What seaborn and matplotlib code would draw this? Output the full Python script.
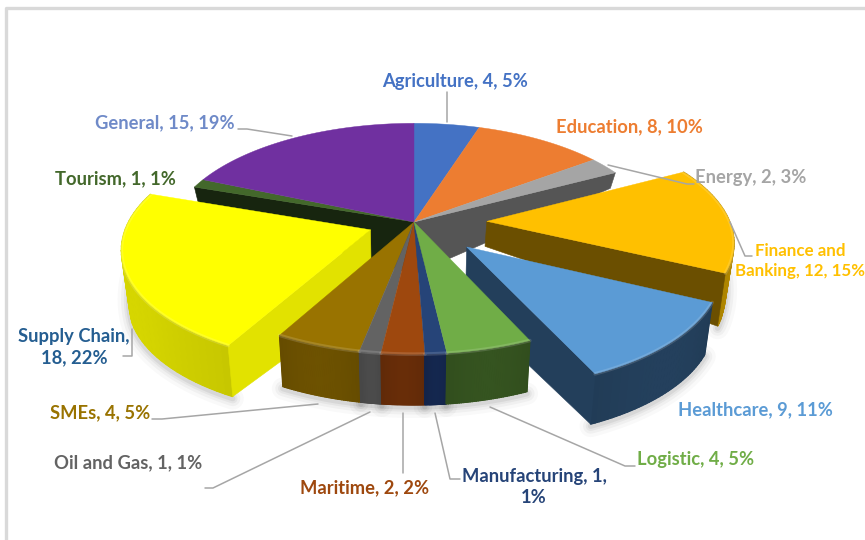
import numpy as np
import matplotlib
matplotlib.use("Agg")
import matplotlib.pyplot as plt
import seaborn as sns

# Survey results by sector
categories = ["Agriculture", "Education", "Energy", "Finance and Banking", "Healthcare",
              "Logistic", "Manufacturing", "Maritime", "Oil and Gas", "SMEs",
              "Supply Chain", "Tourism", "General"]
counts = [4, 8, 2, 12, 9, 4, 1, 2, 1, 4, 18, 1, 15]
percents = [5, 10, 3, 15, 11, 5, 1, 2, 1, 5, 22, 1, 19]

top_colors = ["#4472C4", "#ED7D31", "#A5A5A5", "#FFC000", "#5B9BD5", "#70AD47", "#264478",
              "#9E480E", "#636363", "#997300", "#FFFF00", "#43682B", "#7030A0"]
cut_colors = ["#2a4478", "#8e4b1d", "#555555", "#6b4f00", "#233f5b", "#2f4a1e", "#14264d",
              "#662c08", "#4a4a4a", "#6b5000", "#e2e200", "#17250f", "#3b1a55"]
rim_colors = ["#2a4478", "#8e4b1d", "#555555", "#b58a00", "#233f5b", "#34521f", "#14264d",
              "#662c08", "#4a4a4a", "#6b5000", "#d2d200", "#17250f", "#3b1a55"]
text_colors = ["#4472C4", "#ED7D31", "#A5A5A5", "#FFC000", "#5B9BD5", "#70AD47", "#264478",
               "#9E480E", "#636363", "#997300", "#255E91", "#43682B", "#6F8AC8"]

# Slices pulled out of the pie, as a fraction of the radius
explode = {"Finance and Banking": 0.30, "Healthcare": 0.30, "Supply Chain": 0.19}
# Depth of the side walls at the pie axis
axis_depth = {"Finance and Banking": 25, "Healthcare": 58, "Supply Chain": 65}

CX, CY, RX, RY, PERSP, TAPER = 414.0, 222.0, 243.0, 113.0, 0.145, 0.975

sns.set_theme(style="white")
plt.rcParams["font.family"] = ["Lato", "DejaVu Sans"]

fig = plt.figure(figsize=(8.65, 5.4), dpi=100)
ax = fig.add_axes([0, 0, 1, 1])
ax.set_xlim(0, 865)
ax.set_ylim(540, 0)
ax.axis("off")
sns.despine(ax=ax, left=True, bottom=True)

# Thin grey frame around the chart area
ax.plot([5.5, 5.5, 900], [560, 7.5, 7.5], color="#d9d9d9", lw=2.4, zorder=0)


def project(px, py):
    """Ground-plane pie coordinates to screen pixels, with perspective."""
    s = 1.0 / (1.0 + PERSP * py)
    return CX + RX * px * s, CY - RY * py * s


def wall_depth(py):
    return np.interp(py, [-1.2, -0.4, 0.0, 0.5, 1.0], [50, 53, 38, 14, 10])


def lower(x, y, depth):
    return CX + (x - CX) * TAPER, y + depth


edges = np.concatenate([[0], np.cumsum(counts)]) / np.sum(counts) * 2 * np.pi


def geometry(i):
    name = categories[i]
    a0, a1 = edges[i], edges[i + 1]
    mid = (a0 + a1) / 2
    e = explode.get(name, 0.0)
    ox, oy = e * np.sin(mid), e * np.cos(mid)
    th = np.linspace(a0, a1, 40)
    ax_px, ax_py = np.sin(th) + ox, np.cos(th) + oy
    x, y = project(ax_px, ax_py)
    apex = project(ox, oy)
    return x, y, ax_py, apex, axis_depth.get(name, 52)


def draw_shadow(i):
    x, y, py, _, _ = geometry(i)
    bx, by = lower(x, y, wall_depth(py))
    for w, a in zip([16, 11, 7, 4], [0.025, 0.035, 0.045, 0.06]):
        ax.plot(bx, by + 2, color="black", alpha=a, lw=w, solid_capstyle="round", zorder=1)


def draw_cut(i, which, z):
    x, y, py, apex, adepth = geometry(i)
    k = 0 if which == "start" else -1
    b_out = lower(x[k], y[k], wall_depth(py[k]))
    b_in = lower(apex[0], apex[1], adepth)
    ax.fill([apex[0], x[k], b_out[0], b_in[0]], [apex[1], y[k], b_out[1], b_in[1]],
            color=cut_colors[i], lw=0.4, zorder=z)


def draw_rim(i, z):
    x, y, py, _, _ = geometry(i)
    bx, by = lower(x, y, wall_depth(py))
    base = np.array(matplotlib.colors.to_rgb(rim_colors[i]))
    ax.fill(np.r_[x, bx[::-1]], np.r_[y, by[::-1]], color=base, lw=0.5, zorder=z)
    n = len(x) - 1
    for j in range(n):
        # Gentle banding along the curved edge
        f = 0.95 + 0.07 * np.sin((j / n) * np.pi)
        c = np.clip(base * f, 0, 1)
        ax.fill([x[j], x[j + 1], bx[j + 1], bx[j]], [y[j], y[j + 1], by[j + 1], by[j]],
                facecolor=c, edgecolor=c, lw=1.0, zorder=z)


def draw_top(i, z, bevel=False):
    x, y, _, apex, _ = geometry(i)
    ax.fill(np.r_[apex[0], x], np.r_[apex[1], y], color=top_colors[i], lw=0.3, zorder=z)
    if bevel:
        # Soft bevel where the top surface rolls into the wall
        ax.plot(x, y, color="white", alpha=0.14, lw=2.6, zorder=z)


idx = {name: k for k, name in enumerate(categories)}

# Shadows under the front edges
for name in ["Finance and Banking", "Healthcare", "Supply Chain", "Logistic", "Manufacturing",
             "Maritime", "Oil and Gas", "SMEs"]:
    draw_shadow(idx[name])

# Pie body behind the pulled-out slices
draw_cut(idx["Energy"], "end", 2)
draw_cut(idx["Tourism"], "start", 2)
for name in ["Agriculture", "Education", "Energy", "Tourism", "General"]:
    draw_top(idx[name], 3)

# Pulled-out slices, back to front
draw_rim(idx["Finance and Banking"], 4)
draw_cut(idx["Finance and Banking"], "end", 4.1)
draw_top(idx["Finance and Banking"], 4.2, bevel=True)

draw_rim(idx["Supply Chain"], 5)
draw_cut(idx["Supply Chain"], "start", 5.1)
draw_top(idx["Supply Chain"], 5.2, bevel=True)

draw_rim(idx["Healthcare"], 6)
draw_cut(idx["Healthcare"], "end", 6.1)
draw_top(idx["Healthcare"], 6.2, bevel=True)

# Front of the pie
for name in ["SMEs", "Oil and Gas", "Maritime", "Manufacturing", "Logistic"]:
    draw_rim(idx[name], 7)
    draw_top(idx[name], 7.2, bevel=True)

# Leader lines from slices to their labels
leaders = [
    [(447, 92), (447, 122)],
    [(608, 165), (687, 184), (694, 184)],
    [(730, 222), (745, 256), (752, 256)],
    [(490, 407), (625, 466), (635, 466)],
    [(435, 413), (450, 479), (460, 479)],
    [(403, 413), (403, 473)],
    [(370, 412), (213, 488), (205, 488)],
    [(318, 404), (162, 419), (152, 419)],
    [(132, 329), (132, 356), (123, 356)],
    [(292, 136), (247, 129), (238, 129)],
]
for pts in leaders:
    lx, ly = zip(*pts)
    ax.plot(lx, ly, color="#a6a6a6", lw=1.1, zorder=8)

label_pos = [(455, 82), (629, 127), (751, 178), (800, 261), (755, 410), (696, 460),
             (534, 487), (365, 488), (128, 463), (100, 413), (74, 347), (115, 179), (165, 123)]
wraps = {"Finance and Banking": ("and Banking", "and\nBanking"),
         "Manufacturing": (", 1%", ",\n1%"),
         "Supply Chain": ("Chain, ", "Chain,\n")}
for i, name in enumerate(categories):
    text = f"{name}, {counts[i]}, {percents[i]}%"
    if name in wraps:
        text = text.replace(*wraps[name])
    # The two-line Finance label is set a little smaller so it stays inside the figure
    size = 12.2 if name == "Finance and Banking" else 13.2
    ax.text(*label_pos[i], text, color=text_colors[i], fontsize=size, fontweight="bold",
            ha="center", va="center", linespacing=1.3, zorder=9)

fig.savefig("out.png", dpi=100, facecolor="white")
